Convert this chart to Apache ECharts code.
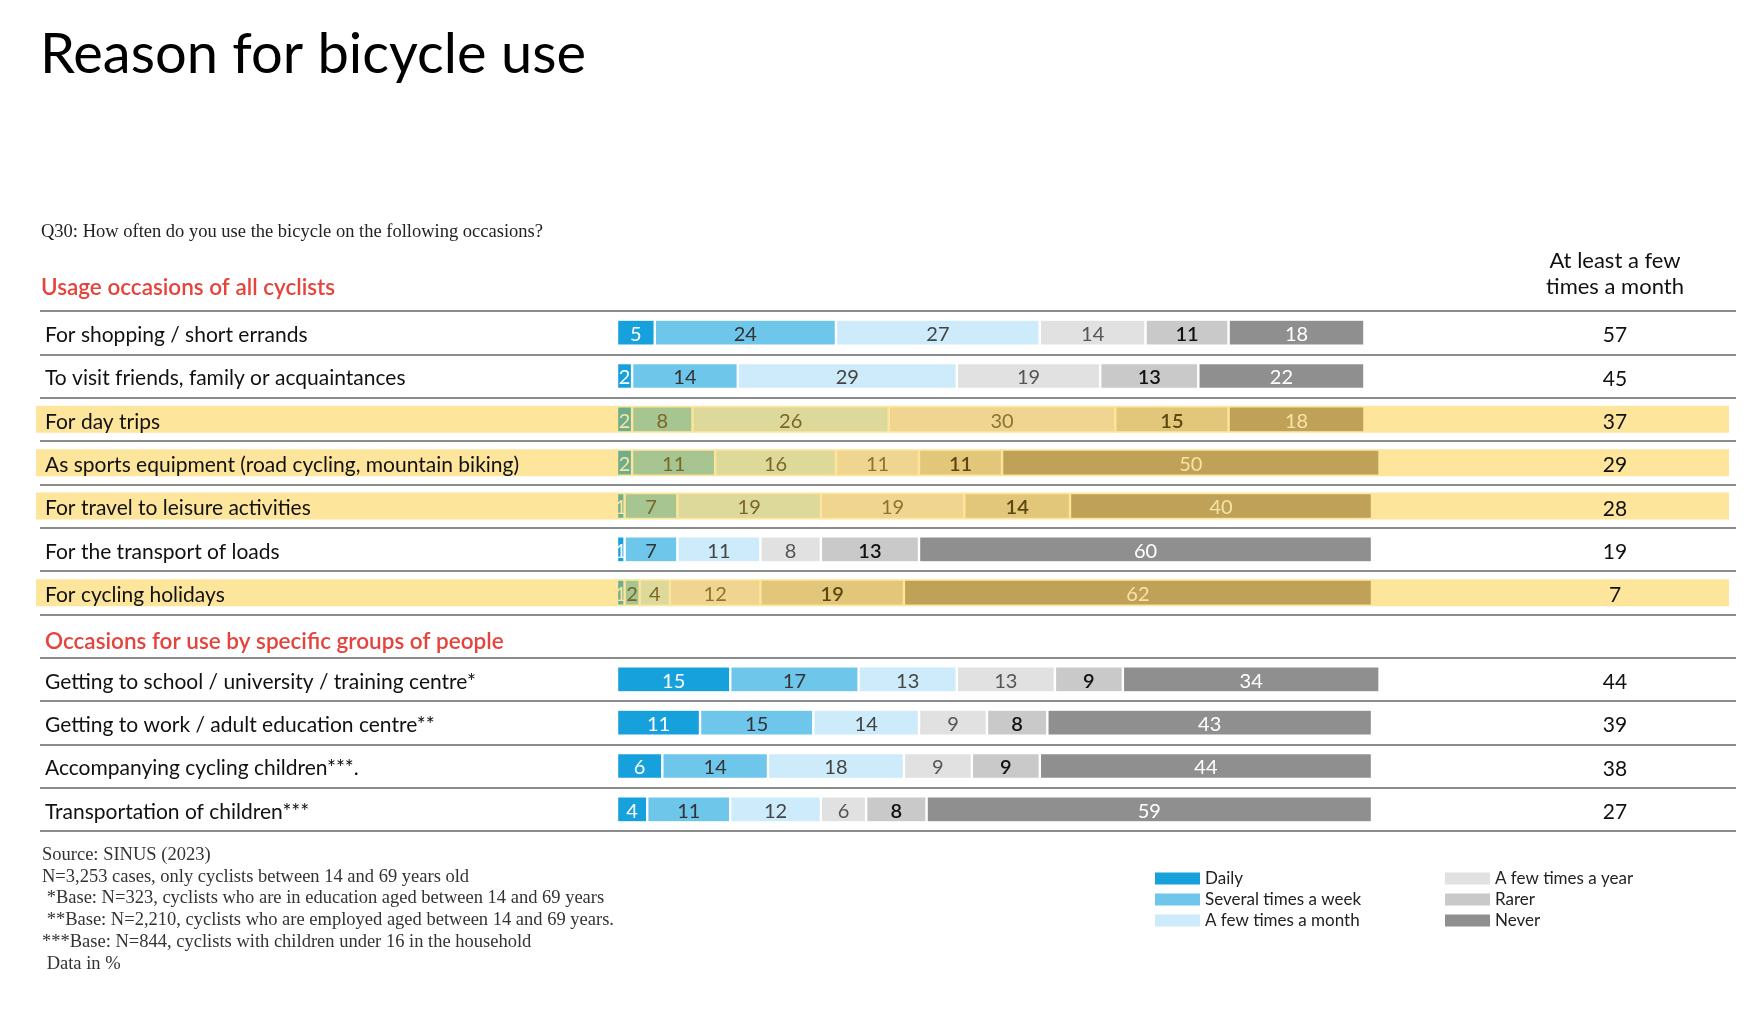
<!DOCTYPE html>
<html>
<head>
<meta charset="utf-8">
<script src="https://cdn.jsdelivr.net/npm/echarts@6/dist/echarts.min.js"></script>
<style>
html,body{margin:0;padding:0;background:#fff;}
#chart{width:1754px;height:1032px;}
</style>
</head>
<body>
<div id="chart"></div>
<script>
// ---------- DATA ----------
const rows = [
  'For shopping / short errands',
  'To visit friends, family or acquaintances',
  'For day trips',
  'As sports equipment (road cycling, mountain biking)',
  'For travel to leisure activities',
  'For the transport of loads',
  'For cycling holidays',
  'Getting to school / university / training centre*',
  'Getting to work / adult education centre**',
  'Accompanying cycling children***.',
  'Transportation of children***'
];
const rowTheme = ['blue','blue','gold','gold','gold','blue','gold','blue','blue','blue','blue'];
const seriesNames = ['Daily','Several times a week','A few times a month','A few times a year','Rarer','Never'];
const daily    = [5, 2, 2, 2, 1, 1, 1, 15, 11, 6, 4];
const several  = [24, 14, 8, 11, 7, 7, 2, 17, 15, 14, 11];
const fewMonth = [27, 29, 26, 16, 19, 11, 4, 13, 14, 18, 12];
const fewYear  = [14, 19, 30, 11, 19, 8, 12, 13, 9, 9, 6];
const rarer    = [11, 13, 15, 11, 14, 13, 19, 9, 8, 9, 8];
const never    = [18, 22, 18, 50, 40, 60, 62, 34, 43, 44, 59];
const atLeast  = [57, 45, 37, 29, 28, 19, 7, 44, 39, 38, 27];
const header1 = 'Usage occasions of all cyclists';
const header2 = 'Occasions for use by specific groups of people';
const rightHeader = ['At least a few', 'times a month'];
const titleText = 'Reason for bicycle use';
const questionText = 'Q30: How often do you use the bicycle on the following occasions?';
const footnotes = [
  'Source: SINUS (2023)',
  'N=3,253 cases, only cyclists between 14 and 69 years old',
  ' *Base: N=323, cyclists who are in education aged between 14 and 69 years',
  ' **Base: N=2,210, cyclists who are employed aged between 14 and 69 years.',
  '***Base: N=844, cyclists with children under 16 in the household',
  ' Data in %'
];
const allSeries = [daily, several, fewMonth, fewYear, rarer, never];

// ---------- STYLE ----------
const palettes = {
  blue: ['#17a1dc','#6ec6eb','#cdebfa','#e1e1e1','#c9c9c9','#8f8f8f'],
  gold: ['#6fae8c','#a6c590','#dcd99b','#efd58f','#e2c679','#bfa157']
};
const labelColors = {
  blue: ['#ffffff','#333333','#444444','#555555','#111111','#ffffff'],
  gold: ['#fbe3a0','#7a6628','#7a6628','#8a7433','#5a4810','#f7e4a6']
};
const sepColor = {blue:'#ffffff', gold:'#fde59c'};
const bandColor = '#fde59c';
const FONT = 'Lato';
const SERIF = "'Liberation Serif', 'DejaVu Serif', serif";

// layout
const gridTop = 311, gridHeight = 520;
const mainLeft = 40, mainRight = 1736;
const barStartPx = 617, pxPerPct = 7.55;
const xMin = -(barStartPx - mainLeft) / pxPerPct;
const xMax = xMin + (mainRight - mainLeft) / pxPerPct;
const rightColX = 1615;

// slot helpers (header slot inserted after row 7)
const nTop = 7;
function slots(arr, filler) { return [...arr.slice(0, nTop), filler, ...arr.slice(nTop)]; }
const slotNames = slots(rows, header2);
const slotTheme = slots(rowTheme, null);

const barSeries = seriesNames.map((name, s) => ({
  name: name,
  type: 'bar',
  stack: 'total',
  xAxisIndex: 1,
  yAxisIndex: 1,
  barWidth: 26,
  z: 3,
  itemStyle: {color: palettes.blue[s]},
  label: {show: true, position: 'inside', offset: [0, 2], fontFamily: FONT, fontSize: 20,
          fontWeight: s === 4 ? 600 : 'normal'},
  emphasis: {disabled: true},
  data: slots(allSeries[s], '-').map((v, i) => {
    const th = slotTheme[i];
    if (v === '-' || th === null) return '-';
    return {
      value: v,
      itemStyle: {color: palettes[th][s], borderColor: sepColor[th], borderWidth: 1.2},
      label: {color: labelColors[th][s]}
    };
  })
}));

const bandSeries = {
  name: 'band', type: 'bar', xAxisIndex: 0, yAxisIndex: 0, barWidth: 27, z: 1, silent: true,
  itemStyle: {color: bandColor},
  data: slotTheme.map(t => t === 'gold' ? 1 : '-')
};

const legendBase = {
  orient: 'vertical', icon: 'rect', itemWidth: 45, itemHeight: 12, itemGap: 4,
  textStyle: {fontFamily: FONT, fontSize: 17, color: '#222'},
  selectedMode: false
};

const option = {
  backgroundColor: '#ffffff',
  animation: false,
  grid: [
    {left: 36, right: 25, top: gridTop, height: gridHeight},
    {left: mainLeft, right: 1754 - mainRight, top: gridTop, height: gridHeight}
  ],
  xAxis: [
    {gridIndex: 0, type: 'value', min: 0, max: 1, show: false},
    {gridIndex: 1, type: 'value', min: xMin, max: xMax, show: false}
  ],
  yAxis: [
    {gridIndex: 0, type: 'category', inverse: true, data: slotNames, show: false},
    {gridIndex: 1, type: 'category', inverse: true, data: slotNames, z: 10,
     axisLine: {show: false}, axisTick: {show: false},
     splitLine: {show: true, interval: 0, lineStyle: {color: '#8c8c8c', width: 2}},
     axisLabel: {inside: true, margin: 5, interval: 0, fontFamily: FONT, fontSize: 21, color: '#111',
       padding: [5, 0, 0, 0],
       formatter: v => v === header2 ? '{h|' + v + '}' : v,
       rich: {h: {color: '#e5433c', fontFamily: FONT, fontSize: 22.5, fontWeight: 600, padding: [6, 0, 0, 0]}}}
    },
    {gridIndex: 1, type: 'category', inverse: true, position: 'right', offset: -(mainRight - rightColX), z: 10,
     data: slots(atLeast.map(String), ''),
     axisLine: {show: false}, axisTick: {show: false}, splitLine: {show: false},
     axisLabel: {margin: 0, align: 'center', interval: 0, color: '#111',
       formatter: v => '{v|' + v + '}',
       rich: {v: {fontFamily: FONT, fontSize: 21, color: '#111', padding: [6, 0, 0, 0]}}}
    }
  ],
  legend: [
    Object.assign({}, legendBase, {left: 1150, top: 865, data: seriesNames.slice(0, 3)}),
    Object.assign({}, legendBase, {left: 1440, top: 865, data: seriesNames.slice(3)})
  ],
  graphic: [
    {type: 'text', left: 40, top: 27, style: {text: titleText, font: 'normal 56px ' + FONT, fill: '#000'}},
    {type: 'text', x: 41, y: 232, style: {text: questionText, font: '18.5px ' + SERIF, fill: '#222', textVerticalAlign: 'middle'}},
    {type: 'text', x: 41, y: 288, style: {text: header1, font: '600 22.5px ' + FONT, fill: '#e5433c', textVerticalAlign: 'middle'}},
    {type: 'text', x: rightColX, y: 261, style: {text: rightHeader[0], font: '22px ' + FONT, fill: '#111', textAlign: 'center', textVerticalAlign: 'middle'}},
    {type: 'text', x: rightColX, y: 287, style: {text: rightHeader[1], font: '22px ' + FONT, fill: '#111', textAlign: 'center', textVerticalAlign: 'middle'}}
  ].concat(footnotes.map((t, i) => ({
    type: 'text', x: 42, y: 855 + i * 21.8,
    style: {text: t, font: '18.5px ' + SERIF, fill: '#333', textVerticalAlign: 'middle'}
  }))),
  series: [bandSeries].concat(barSeries)
};

const chart = echarts.init(document.getElementById('chart'), null, {renderer: 'canvas'});
chart.setOption(option);
</script>
</body>
</html>
